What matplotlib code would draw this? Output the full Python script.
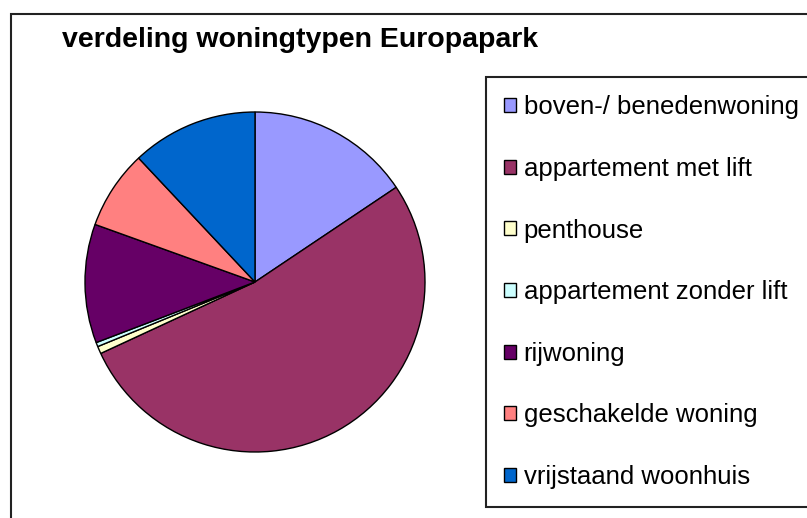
import matplotlib
matplotlib.use("Agg")
import matplotlib.pyplot as plt
from matplotlib.patches import Rectangle, Patch

# woningtypen Europapark (aandeel in %)
labels = [
    "boven-/ benedenwoning",
    "appartement met lift",
    "penthouse",
    "appartement zonder lift",
    "rijwoning",
    "geschakelde woning",
    "vrijstaand woonhuis",
]
shares = [15.6, 52.5, 0.7, 0.4, 11.3, 7.5, 12.0]
colors = ["#9999FF", "#993366", "#FFFFCC", "#CCFFFF", "#660066", "#FF8080", "#0066CC"]

W, H = 807, 518
fig = plt.figure(figsize=(W / 100, H / 100), dpi=100)
plt.rcParams["font.family"] = ["Liberation Sans", "DejaVu Sans"]

# chart area border (cut off on right and bottom)
fig.patches.append(Rectangle((11 / W, -0.1), 1.2, 1.1 - 14 / H,
                             transform=fig.transFigure, fill=False,
                             edgecolor="#222222", linewidth=1.5))

fig.text(62 / W, 1 - 40 / H, "verdeling woningtypen Europapark",
         fontsize=20.5, fontweight="bold", va="center", ha="left")

ax = fig.add_axes([85 / W, 1 - 452 / H, 340 / W, 340 / H])
ax.pie(shares, colors=colors, startangle=90, counterclock=False,
       wedgeprops=dict(edgecolor="black", linewidth=1))
ax.set_xlim(-1.0, 1.0)
ax.set_ylim(-1.0, 1.0)
ax.set_aspect("auto")
ax.axis("off")

handles = [Patch(facecolor=c, edgecolor="black", linewidth=1) for c in colors]
leg = fig.legend(handles, labels, loc="upper left",
                 bbox_to_anchor=(486 / W, 1 - 77 / H),
                 fontsize=18.5, frameon=True, fancybox=False,
                 handlelength=0.45, handleheight=0.45, handletextpad=0.3,
                 labelspacing=1.465, borderpad=0.71, borderaxespad=0)
frame = leg.get_frame()
frame.set_edgecolor("#222222")
frame.set_linewidth(1.5)
frame.set_facecolor("white")
frame.set_alpha(1)

fig.savefig("out.png", dpi=100)
